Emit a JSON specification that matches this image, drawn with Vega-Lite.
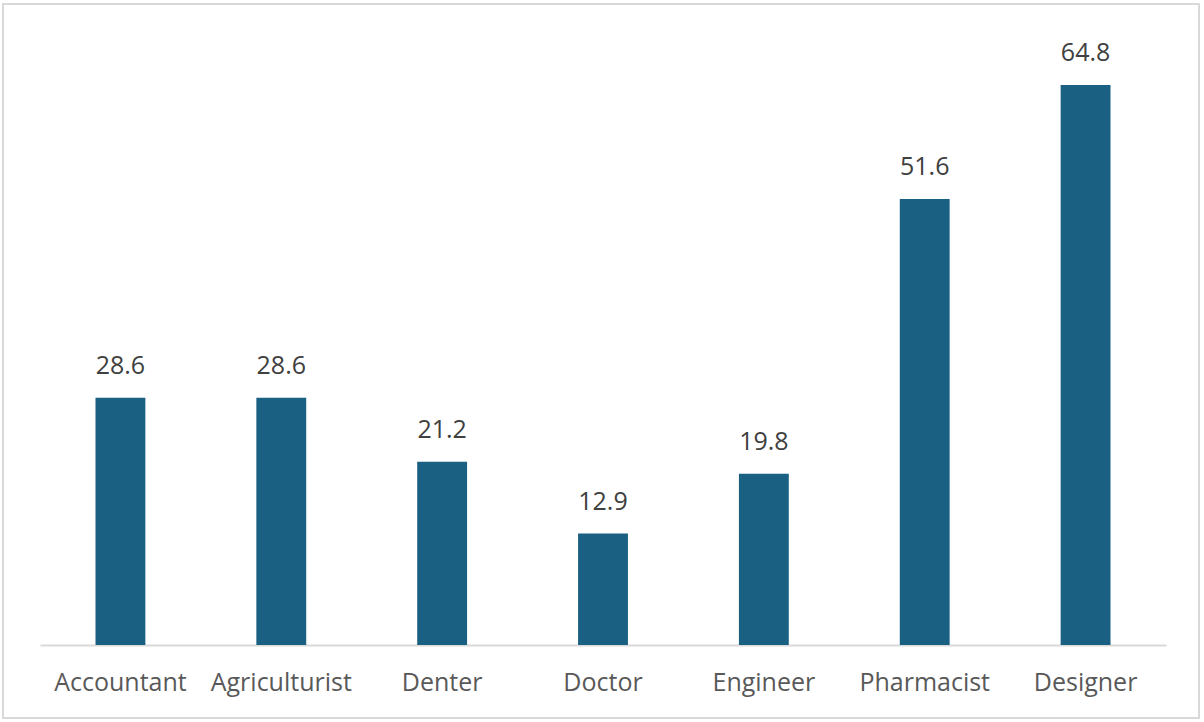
{
  "$schema": "https://vega.github.io/schema/vega-lite/v6.json",
  "width": 1196,
  "height": 714,
  "padding": {"left": 3, "top": 4, "right": 5, "bottom": 4},
  "autosize": {"type": "none"},
  "background": "white",
  "config": {"view": {"stroke": "#d9d9d9", "strokeWidth": 2}, "font": "Open Sans"},
  "data": {"values": [
    {"occupation": "Accountant", "value": 28.6},
    {"occupation": "Agriculturist", "value": 28.6},
    {"occupation": "Denter", "value": 21.2},
    {"occupation": "Doctor", "value": 12.9},
    {"occupation": "Engineer", "value": 19.8},
    {"occupation": "Pharmacist", "value": 51.6},
    {"occupation": "Designer", "value": 64.8}
  ]},
  "encoding": {
    "x": {"field": "occupation", "type": "nominal", "sort": null,
      "scale": {"range": [37, 1163], "paddingInner": 0.69, "paddingOuter": 0.345},
      "axis": {"title": null, "labelAngle": 0, "ticks": false, "domainColor": "#d9d9d9", "domainWidth": 2,
        "labelFontSize": 25, "labelColor": "#595959", "labelPadding": 25, "offset": -73, "labelFont": "Open Sans"}},
    "y": {"field": "value", "type": "quantitative",
      "scale": {"domain": [0, 70], "range": [641, 36], "nice": false}, "axis": null}
  },
  "layer": [
    {"mark": {"type": "bar", "color": "#1a6082"}},
    {"mark": {"type": "text", "baseline": "alphabetic", "dy": -24, "fontSize": 25, "color": "#404040", "font": "Open Sans"},
      "encoding": {"text": {"field": "value", "type": "quantitative", "format": ".1f"}}}
  ]
}
